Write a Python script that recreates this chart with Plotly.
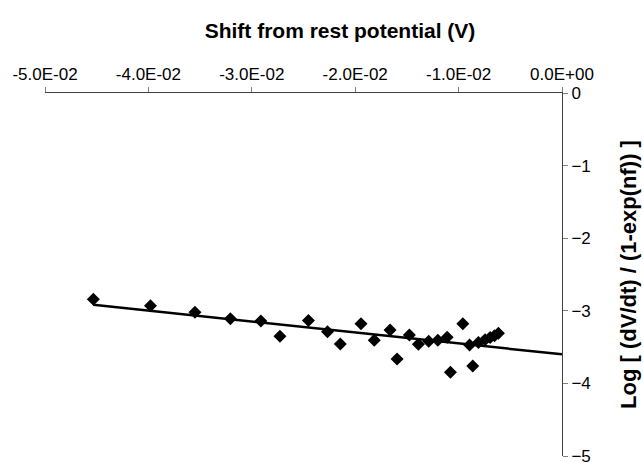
import numpy as np
import plotly.graph_objects as go

# Shift from rest potential (V)
shift_v = [-0.04533, -0.0398, -0.0355, -0.03207, -0.02912, -0.02728, -0.02452,
           -0.02268, -0.02144, -0.01944, -0.01816, -0.01663, -0.01595, -0.01476,
           -0.01389, -0.01289, -0.01201, -0.01111, -0.01079, -0.00959, -0.00894,
           -0.00863, -0.00808, -0.00744, -0.00695, -0.00653, -0.00615]
# Log[(dV/dt)/(1-exp(nf))]
log_rate = [-2.84, -2.93, -3.02, -3.11, -3.14, -3.35, -3.135,
            -3.29, -3.456, -3.18, -3.405, -3.263, -3.663, -3.335,
            -3.46, -3.419, -3.404, -3.366, -3.848, -3.18, -3.47,
            -3.759, -3.438, -3.40, -3.369, -3.342, -3.309]

x_tick_vals = [-0.05, -0.04, -0.03, -0.02, -0.01, 0.0]
x_tick_text = ["-5.0E-02", "-4.0E-02", "-3.0E-02", "-2.0E-02", "-1.0E-02", "0.0E+00"]
y_tick_vals = [0, -1, -2, -3, -4, -5]

# Linear trendline, forecast forward to zero shift
slope, intercept = np.polyfit(shift_v, log_rate, 1)
trend_x = np.array([min(shift_v), 0.0])
trend_y = slope * trend_x + intercept

FONT = "Liberation Sans, Arial, sans-serif"

fig = go.Figure()
fig.add_trace(go.Scatter(
    x=trend_x, y=trend_y, mode="lines",
    line=dict(color="black", width=2.5), showlegend=False, hoverinfo="skip"))
fig.add_trace(go.Scatter(
    x=shift_v, y=log_rate, mode="markers",
    marker=dict(symbol="diamond", size=10, color="black"),
    showlegend=False))

fig.update_layout(
    width=643, height=462,
    margin=dict(l=45, r=81, t=93, b=6, autoexpand=False),
    paper_bgcolor="white", plot_bgcolor="white",
    font=dict(family=FONT, color="black", size=17),
    title=dict(text="<b>Shift from rest potential (V)</b>",
               xref="container", yref="container",
               x=340 / 643, y=1 - 31 / 462, xanchor="center", yanchor="middle",
               font=dict(family=FONT, size=21, color="black")),
    xaxis=dict(side="top", range=[-0.05, 0], tickmode="array",
               tickvals=x_tick_vals, ticktext=x_tick_text, automargin=False,
               showline=True, linecolor="#404040", linewidth=1,
               ticks="outside", ticklen=5, tickcolor="#808080",
               showgrid=False, zeroline=False,
               tickfont=dict(family=FONT, size=17, color="black")),
    yaxis=dict(side="right", range=[-5, 0], tickmode="array",
               tickvals=y_tick_vals, ticklabeloverflow="allow", automargin=False,
               showline=True, linecolor="#404040", linewidth=1,
               ticks="outside", ticklen=5, tickcolor="#808080",
               showgrid=False, zeroline=False,
               tickfont=dict(family=FONT, size=17, color="black"),
               title=dict(text="<b>Log [ (dV/dt) / (1-exp(nf)) ]</b>",
                          standoff=30,
                          font=dict(family=FONT, size=22, color="black"))),
)

fig.write_html("out.html")
